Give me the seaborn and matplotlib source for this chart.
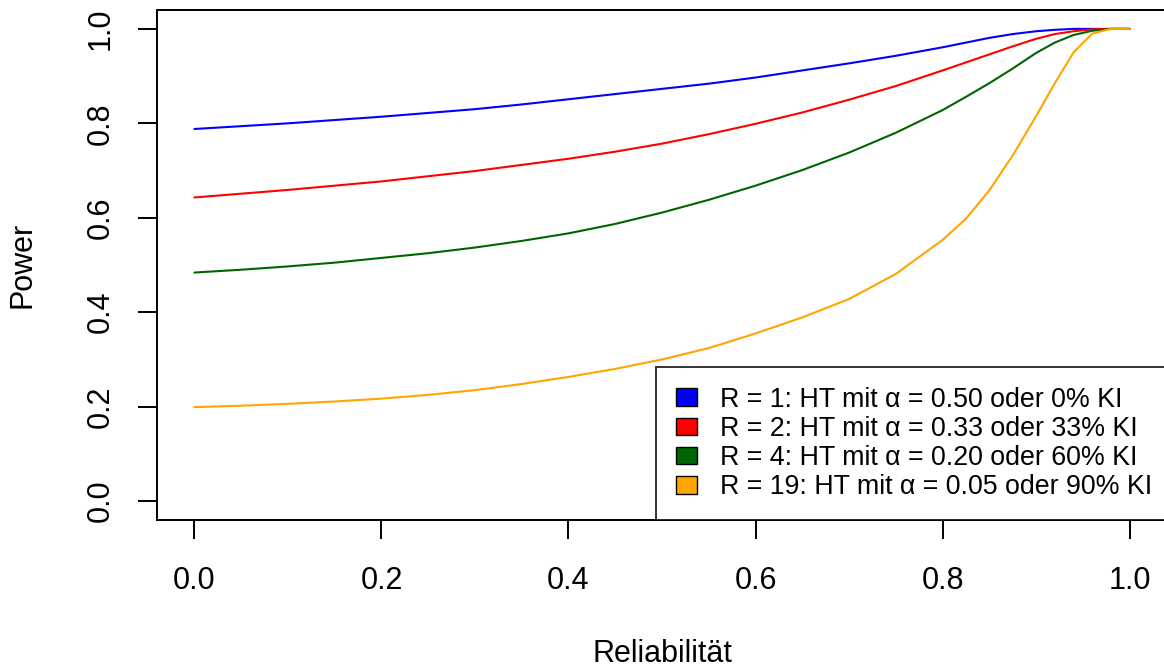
import pandas as pd
import matplotlib
matplotlib.use("Agg")
import matplotlib.pyplot as plt
import seaborn as sns
from matplotlib.patches import Patch

# Reliability grid and power values
reliab = [0.0, 0.05, 0.1, 0.15, 0.2, 0.25, 0.3, 0.35, 0.4, 0.45, 0.5, 0.55, 0.6, 0.65,
          0.7, 0.75, 0.8, 0.825, 0.85, 0.875, 0.9, 0.92, 0.94, 0.96, 0.98, 1.0]
power_r1 = [0.788, 0.794, 0.800, 0.807, 0.814, 0.822, 0.830, 0.840, 0.851, 0.862, 0.873, 0.884, 0.897,
            0.912, 0.927, 0.943, 0.961, 0.971, 0.981, 0.989, 0.995, 0.998, 1.0, 1.0, 1.0, 1.0]
power_r2 = [0.643, 0.651, 0.659, 0.668, 0.677, 0.688, 0.699, 0.712, 0.725, 0.740, 0.757, 0.777, 0.799,
            0.823, 0.850, 0.879, 0.912, 0.929, 0.946, 0.963, 0.979, 0.989, 0.995, 0.999, 1.0, 1.0]
power_r4 = [0.484, 0.490, 0.497, 0.505, 0.515, 0.525, 0.537, 0.551, 0.567, 0.587, 0.611, 0.638, 0.668,
            0.701, 0.738, 0.780, 0.828, 0.856, 0.885, 0.916, 0.949, 0.971, 0.987, 0.996, 1.0, 1.0]
power_r19 = [0.199, 0.202, 0.206, 0.211, 0.217, 0.225, 0.235, 0.248, 0.263, 0.280, 0.300, 0.324, 0.355,
             0.389, 0.428, 0.481, 0.553, 0.598, 0.658, 0.732, 0.815, 0.885, 0.950, 0.990, 1.0, 1.0]

labels = [
    "R = 1: HT mit \u03b1 = 0.50 oder 0% KI",
    "R = 2: HT mit \u03b1 = 0.33 oder 33% KI",
    "R = 4: HT mit \u03b1 = 0.20 oder 60% KI",
    "R = 19: HT mit \u03b1 = 0.05 oder 90% KI",
]
colors = ["#0000FF", "#FF0000", "#006400", "#FFA500"]

frames = []
for lab, vals in zip(labels, [power_r1, power_r2, power_r4, power_r19]):
    frames.append(pd.DataFrame({"Reliabilitaet": reliab, "Power": vals, "Serie": lab}))
df = pd.concat(frames, ignore_index=True)

sns.set_theme(style="white")
plt.rcParams["font.family"] = ["Liberation Sans", "DejaVu Sans"]
plt.rcParams["text.color"] = "black"

fig = plt.figure(figsize=(11.64, 6.70), dpi=100)
ax = fig.add_axes([157 / 1164, 150 / 670, 1010 / 1164, 510 / 670])

sns.lineplot(data=df, x="Reliabilitaet", y="Power", hue="Serie",
             palette=dict(zip(labels, colors)), linewidth=1.5, ax=ax, legend=False)

ax.set_xlim(-0.04, 1.04)
ax.set_ylim(-0.04, 1.04)
ax.set_xticks([0.0, 0.2, 0.4, 0.6, 0.8, 1.0])
ax.set_yticks([0.0, 0.2, 0.4, 0.6, 0.8, 1.0])
ax.set_xticklabels(["0.0", "0.2", "0.4", "0.6", "0.8", "1.0"])
ax.set_yticklabels(["0.0", "0.2", "0.4", "0.6", "0.8", "1.0"], rotation=90, va="center")

for sp in ax.spines.values():
    sp.set_color("black")
    sp.set_linewidth(1.4)

ax.tick_params(axis="both", direction="out", length=14, width=1.4, color="black",
               labelsize=22, labelcolor="black", bottom=True, left=True)
ax.tick_params(axis="x", pad=19)
ax.tick_params(axis="y", pad=16)

ax.set_xlabel("Reliabilität", fontsize=22, color="black")
ax.set_ylabel("Power", fontsize=22, color="black")
ax.xaxis.set_label_coords(0.5, -0.234)
ax.yaxis.set_label_coords(-0.118, 0.5)

handles = [Patch(facecolor=c, edgecolor="black", linewidth=1.0) for c in colors]
leg = ax.legend(handles, labels, loc="lower right", bbox_to_anchor=(1.005, 0.0),
                borderaxespad=0, fontsize=19.3, frameon=True, fancybox=False,
                handlelength=0.78, handleheight=0.63, handletextpad=0.85,
                labelspacing=0.12, borderpad=0.74)
leg.get_frame().set_edgecolor("black")
leg.get_frame().set_linewidth(1.4)
for t in leg.get_texts():
    t.set_color("black")

fig.savefig("out.png", dpi=100)
